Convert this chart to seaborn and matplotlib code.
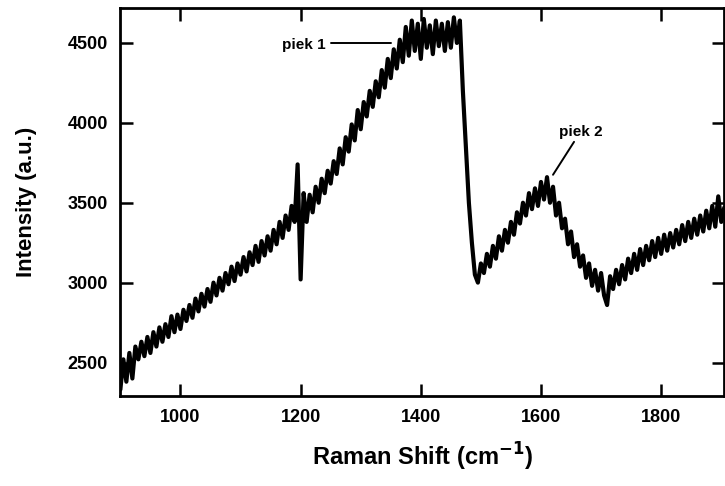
import numpy as np
import pandas as pd
import matplotlib
matplotlib.use("Agg")
import matplotlib.pyplot as plt
import seaborn as sns

wavenumber = np.arange(900, 1910, 5)
intensity = [
    2330, 2520, 2380, 2560, 2400, 2600, 2520, 2630, 2540, 2660,  # 900
    2560, 2690, 2600, 2720, 2630, 2740, 2660, 2790, 2690, 2800,  # 950
    2710, 2830, 2760, 2860, 2780, 2900, 2820, 2930, 2850, 2960,  # 1000
    2880, 3000, 2920, 3030, 2950, 3060, 2990, 3100, 3010, 3120,  # 1050
    3050, 3160, 3070, 3190, 3110, 3230, 3130, 3260, 3170, 3290,  # 1100
    3200, 3330, 3240, 3380, 3280, 3420, 3330, 3480, 3380, 3740,  # 1150
    3020, 3560, 3380, 3550, 3440, 3600, 3500, 3650, 3560, 3700,  # 1200
    3620, 3760, 3680, 3840, 3740, 3910, 3820, 3990, 3890, 4080,  # 1250
    3960, 4130, 4040, 4200, 4100, 4260, 4160, 4330, 4220, 4400,  # 1300
    4280, 4460, 4340, 4520, 4380, 4600, 4420, 4640, 4450, 4620,  # 1350
    4400, 4650, 4470, 4610, 4430, 4640, 4480, 4620, 4450, 4630,  # 1400
    4470, 4660, 4500, 4640, 4200, 3850, 3500, 3250, 3050, 3000,  # 1450
    3120, 3060, 3180, 3100, 3230, 3150, 3290, 3200, 3330, 3250,  # 1500
    3380, 3300, 3440, 3370, 3500, 3420, 3560, 3460, 3590, 3480,  # 1550
    3630, 3520, 3660, 3500, 3600, 3420, 3500, 3340, 3400, 3240,  # 1600
    3320, 3160, 3240, 3100, 3170, 3030, 3120, 2980, 3080, 2950,  # 1650
    3060, 2920, 2860, 3040, 2960, 3080, 2990, 3110, 3020, 3150,  # 1700
    3060, 3180, 3080, 3210, 3110, 3230, 3140, 3260, 3160, 3280,  # 1750
    3180, 3300, 3200, 3310, 3220, 3330, 3240, 3360, 3260, 3380,  # 1800
    3280, 3400, 3300, 3420, 3320, 3450, 3340, 3480, 3350, 3540,  # 1850
    3380, 3470,                                                  # 1900
]

x_ticks = [1000, 1200, 1400, 1600, 1800]
y_ticks = [2500, 3000, 3500, 4000, 4500]

# peak labels: text, text position, leader line start / end
peak_labels = ["piek 1", "piek 2"]
peak_text_xy = [(1242, 4490), (1667, 3944)]
peak_line_from = [(1250, 4500), (1655, 3881)]
peak_line_to = [(1350, 4500), (1620, 3675)]

df = pd.DataFrame({"shift": wavenumber, "intensity": intensity})

sns.set_style("ticks")
plt.rcParams["font.family"] = ["Liberation Sans", "DejaVu Sans"]
plt.rcParams["text.color"] = "black"
plt.rcParams["axes.labelcolor"] = "black"
plt.rcParams["xtick.color"] = "black"
plt.rcParams["ytick.color"] = "black"

fig = plt.figure(figsize=(7.25, 4.86), dpi=100)
ax = fig.add_axes([0.166, 0.185, 0.833, 0.799])

sns.lineplot(data=df, x="shift", y="intensity", color="black", linewidth=3.0,
             estimator=None, sort=False, ax=ax)

ax.set_xlim(900, 1905)
ax.set_ylim(2290, 4720)
ax.set_xticks(x_ticks)
ax.set_yticks(y_ticks)
ax.tick_params(direction="in", length=9, width=1.8, top=True, right=True,
               labelsize=13, pad=9, colors="black")
for lab in ax.get_xticklabels() + ax.get_yticklabels():
    lab.set_fontweight("bold")
for sp in ax.spines.values():
    sp.set_linewidth(2.0)
    sp.set_color("black")

ax.set_xlabel("Raman Shift (cm$^{\\mathbf{-1}}$)", fontsize=17, fontweight="bold", labelpad=11)
ax.set_ylabel("Intensity (a.u.)", fontsize=16, fontweight="bold", labelpad=22)

for i in range(len(peak_labels)):
    ax.plot([peak_line_from[i][0], peak_line_to[i][0]],
            [peak_line_from[i][1], peak_line_to[i][1]], color="black", linewidth=1.4)
ax.text(peak_text_xy[0][0], peak_text_xy[0][1], peak_labels[0], ha="right", va="center",
        fontsize=11, fontweight="bold")
ax.text(peak_text_xy[1][0], peak_text_xy[1][1], peak_labels[1], ha="center", va="center",
        fontsize=11, fontweight="bold")

fig.savefig("out.png", dpi=100)
